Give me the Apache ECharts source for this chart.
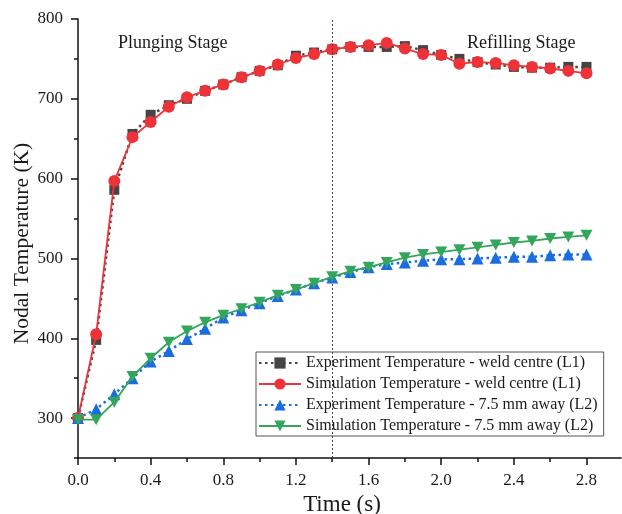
<!DOCTYPE html>
<html><head><meta charset="utf-8">
<script src="https://cdn.jsdelivr.net/npm/echarts@6/dist/echarts.min.js"></script>
<style>html,body{margin:0;padding:0;background:#fff}#c{width:622px;height:514px}</style>
</head><body><div id="c"></div>
<script>
const time = [0.0,0.1,0.2,0.3,0.4,0.5,0.6,0.7,0.8,0.9,1.0,1.1,1.2,1.3,1.4,1.5,1.6,1.7,1.8,1.9,2.0,2.1,2.2,2.3,2.4,2.5,2.6,2.7,2.8];
const expL1 = [300,398,586,656,680,692,700,710,718,727,735,742,754,758,762,765,765,765,766,761,755,750,746,743,740,739,739,740,740];
const simL1 = [300,405,597,652,671,690,702,710,718,727,735,743,751,756,762,765,767,770,763,756,755,744,746,745,742,740,738,735,732];
const expL2 = [300,311,330,350,371,384,399,412,426,435,444,453,461,469,476,483,489,493,495,497,499,499,500,501,502,502,504,505,505];
const simL2 = [298,298,320,352,375,395,409,420,429,437,445,454,461,469,477,484,489,495,501,505,508,511,514,517,520,522,525,527,529];
const xMajor = [0,0.4,0.8,1.2,1.6,2.0,2.4,2.8];
const xMinor = [0.2,0.6,1.0,1.4,1.8,2.2,2.6];
const yMajor = [300,400,500,600,700,800];
const yMinor = [250,350,450,550,650,750];
const seriesNames = [
  'Experiment Temperature - weld centre (L1)',
  'Simulation Temperature - weld centre (L1)',
  'Experiment Temperature - 7.5 mm away (L2)',
  'Simulation Temperature - 7.5 mm away (L2)'
];
const stageLine = 1.4;

const FONT = '"Liberation Serif", "Times New Roman", serif';
const TXT = '#1a1a1a';
const pair = arr => time.map((t, i) => [t, arr[i]]);
const chart = echarts.init(document.getElementById('c'), null, {renderer: 'canvas'});

const xBase = {type: 'value', min: 0, max: 2.99, gridIndex: 0, position: 'bottom', splitLine: {show: false}};
const yBase = {type: 'value', min: 250, max: 800, gridIndex: 0, position: 'left', splitLine: {show: false}};

chart.setOption({
  animation: false,
  backgroundColor: '#fff',
  grid: {left: 78, right: 1, top: 19, bottom: 56, outerBoundsMode: 'none', containLabel: false},
  xAxis: [
    Object.assign({}, xBase, {
      name: 'Time (s)', nameLocation: 'middle', nameGap: 35,
      nameTextStyle: {fontFamily: FONT, fontSize: 23, color: TXT, padding: [0, 15, 0, 0]},
      axisLine: {lineStyle: {color: '#111', width: 1.5}},
      axisTick: {customValues: xMajor, length: 7, lineStyle: {color: '#111', width: 1.5}},
      axisLabel: {customValues: xMajor, margin: 14, fontFamily: FONT, fontSize: 17, color: TXT,
        formatter: v => Number(v).toFixed(1)}
    }),
    Object.assign({}, xBase, {
      axisLine: {show: false},
      axisTick: {customValues: xMinor, length: 4, lineStyle: {color: '#111', width: 1.5}},
      axisLabel: {show: false}
    })
  ],
  yAxis: [
    Object.assign({}, yBase, {
      name: 'Nodal Temperature (K)', nameLocation: 'middle', nameGap: 45, nameRotate: 90,
      nameMoveOverlap: false,
      nameTextStyle: {fontFamily: FONT, fontSize: 21.5, color: TXT, padding: [0, 10, 0, 0]},
      axisLine: {lineStyle: {color: '#111', width: 1.5}},
      axisTick: {customValues: yMajor, length: 7, lineStyle: {color: '#111', width: 1.5}},
      axisLabel: {customValues: yMajor, margin: 15, fontFamily: FONT, fontSize: 17, color: TXT}
    }),
    Object.assign({}, yBase, {
      axisLine: {show: false},
      axisTick: {customValues: yMinor, length: 4, lineStyle: {color: '#111', width: 1.5}},
      axisLabel: {show: false}
    })
  ],
  legend: {
    orient: 'vertical', left: 256, top: 352,
    data: seriesNames,
    itemWidth: 42, itemHeight: 14, itemGap: 5,
    padding: [3, 6, 2, 2],
    backgroundColor: '#fff', borderColor: '#555', borderWidth: 1,
    textStyle: {fontFamily: FONT, fontSize: 16, color: TXT},
    itemStyle: {borderWidth: 0}
  },
  graphic: [
    {type: 'text', left: 118, top: 34, style: {text: 'Plunging Stage', font: '18px ' + FONT, fill: TXT}},
    {type: 'text', left: 467, top: 34, style: {text: 'Refilling Stage', font: '18px ' + FONT, fill: TXT}}
  ],
  series: [
    {
      name: seriesNames[0], type: 'line', data: pair(expL1),
      symbol: 'rect', symbolSize: 10,
      itemStyle: {color: '#454545'},
      lineStyle: {color: '#454545', width: 2.5, type: [2.5, 3.5]},
      markLine: {
        silent: true, symbol: 'none', label: {show: false},
        lineStyle: {color: '#444', width: 1, type: [2, 2]},
        data: [{xAxis: stageLine}]
      },
      z: 2
    },
    {
      name: seriesNames[1], type: 'line', data: pair(simL1),
      symbol: 'circle', symbolSize: 12,
      itemStyle: {color: '#EE3338'},
      lineStyle: {color: '#EE3338', width: 1.8},
      z: 3
    },
    {
      name: seriesNames[2], type: 'line', data: pair(expL2),
      symbol: 'triangle', symbolSize: 12,
      itemStyle: {color: '#1A6DE0'},
      lineStyle: {color: '#1A6DE0', width: 2.5, type: [2.5, 3.5]},
      z: 4
    },
    {
      name: seriesNames[3], type: 'line', data: pair(simL2),
      symbol: 'path://M0,0 L10,0 L5,9 Z', symbolSize: [12, 11],
      itemStyle: {color: '#33A65C'},
      lineStyle: {color: '#33A65C', width: 1.8},
      z: 5
    }
  ]
});
</script>
</body></html>
